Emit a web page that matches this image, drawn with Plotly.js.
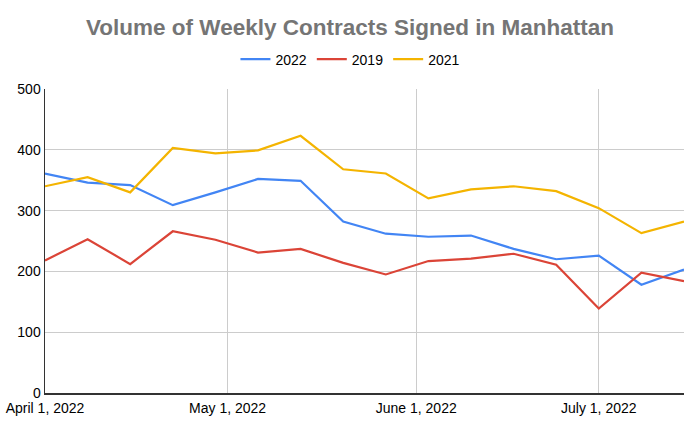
<!DOCTYPE html>
<html>
<head>
<meta charset="utf-8">
<script src="https://cdn.plot.ly/plotly-3.0.1.min.js"></script>
<style>html,body{margin:0;padding:0;background:#fff;}#chart{width:700px;height:428px;}</style>
</head>
<body>
<div id="chart"></div>
<script>
const weeks = ["2022-04-01","2022-04-08","2022-04-15","2022-04-22","2022-04-29","2022-05-06","2022-05-13","2022-05-20","2022-05-27","2022-06-03","2022-06-10","2022-06-17","2022-06-24","2022-07-01","2022-07-08","2022-07-15"];
const seriesNames = ["2022","2019","2021"];
const values2022 = [361,346,342,309,330,352,349,282,262,257,259,237,220,226,178,203];
const values2019 = [218,253,212,266,252,231,237,214,195,217,221,229,211,139,198,184];
const values2021 = [340,355,330,403,394,399,423,368,361,320,335,340,332,304,263,282];
const colors = ["#4285F4","#DB4437","#F4B400"];
const yTicks = [0,100,200,300,400,500];

const allValues = [values2022, values2019, values2021];
const traces = allValues.map((v,i)=>({
  type:"scatter", mode:"lines", name:seriesNames[i], x:weeks, y:v,
  line:{color:colors[i], width:2.2}
}));

const layout = {
  width:700, height:428,
  margin:{l:45,r:16,t:89,b:35},
  paper_bgcolor:"#fff", plot_bgcolor:"#fff",
  font:{family:"Liberation Sans, Arial, sans-serif", size:14, color:"#000"},
  title:{text:"<b>Volume of Weekly Contracts Signed in Manhattan</b>", x:0.5, xanchor:"center", y:0.937, yanchor:"middle",
    font:{size:22.5, color:"#757575", family:"Liberation Sans, Arial, sans-serif", weight:"bold"}},
  showlegend:true,
  legend:{orientation:"h", x:0.478, xanchor:"center", y:1.097, yanchor:"middle", font:{size:14}, itemwidth:30, traceorder:"normal"},
  xaxis:{type:"date", range:["2022-04-01","2022-07-15"], tick0:"2022-04-01", dtick:"M1", tickformat:"%B %-d, %Y",
    showgrid:true, gridcolor:"#cccccc", gridwidth:1, showline:true, linecolor:"#333", linewidth:1.5,
    ticks:"", tickfont:{size:14}, zeroline:false, fixedrange:true, ticklabelstandoff:2},
  yaxis:{range:[0,500], tickvals:yTicks, ticktext:yTicks.map(String), showgrid:true, gridcolor:"#cccccc", gridwidth:1,
    showline:true, linecolor:"#333", linewidth:1.5, ticks:"", tickfont:{size:14}, zeroline:false, fixedrange:true}
};
Plotly.newPlot("chart", traces, layout, {displayModeBar:false, staticPlot:true});
</script>
</body>
</html>
